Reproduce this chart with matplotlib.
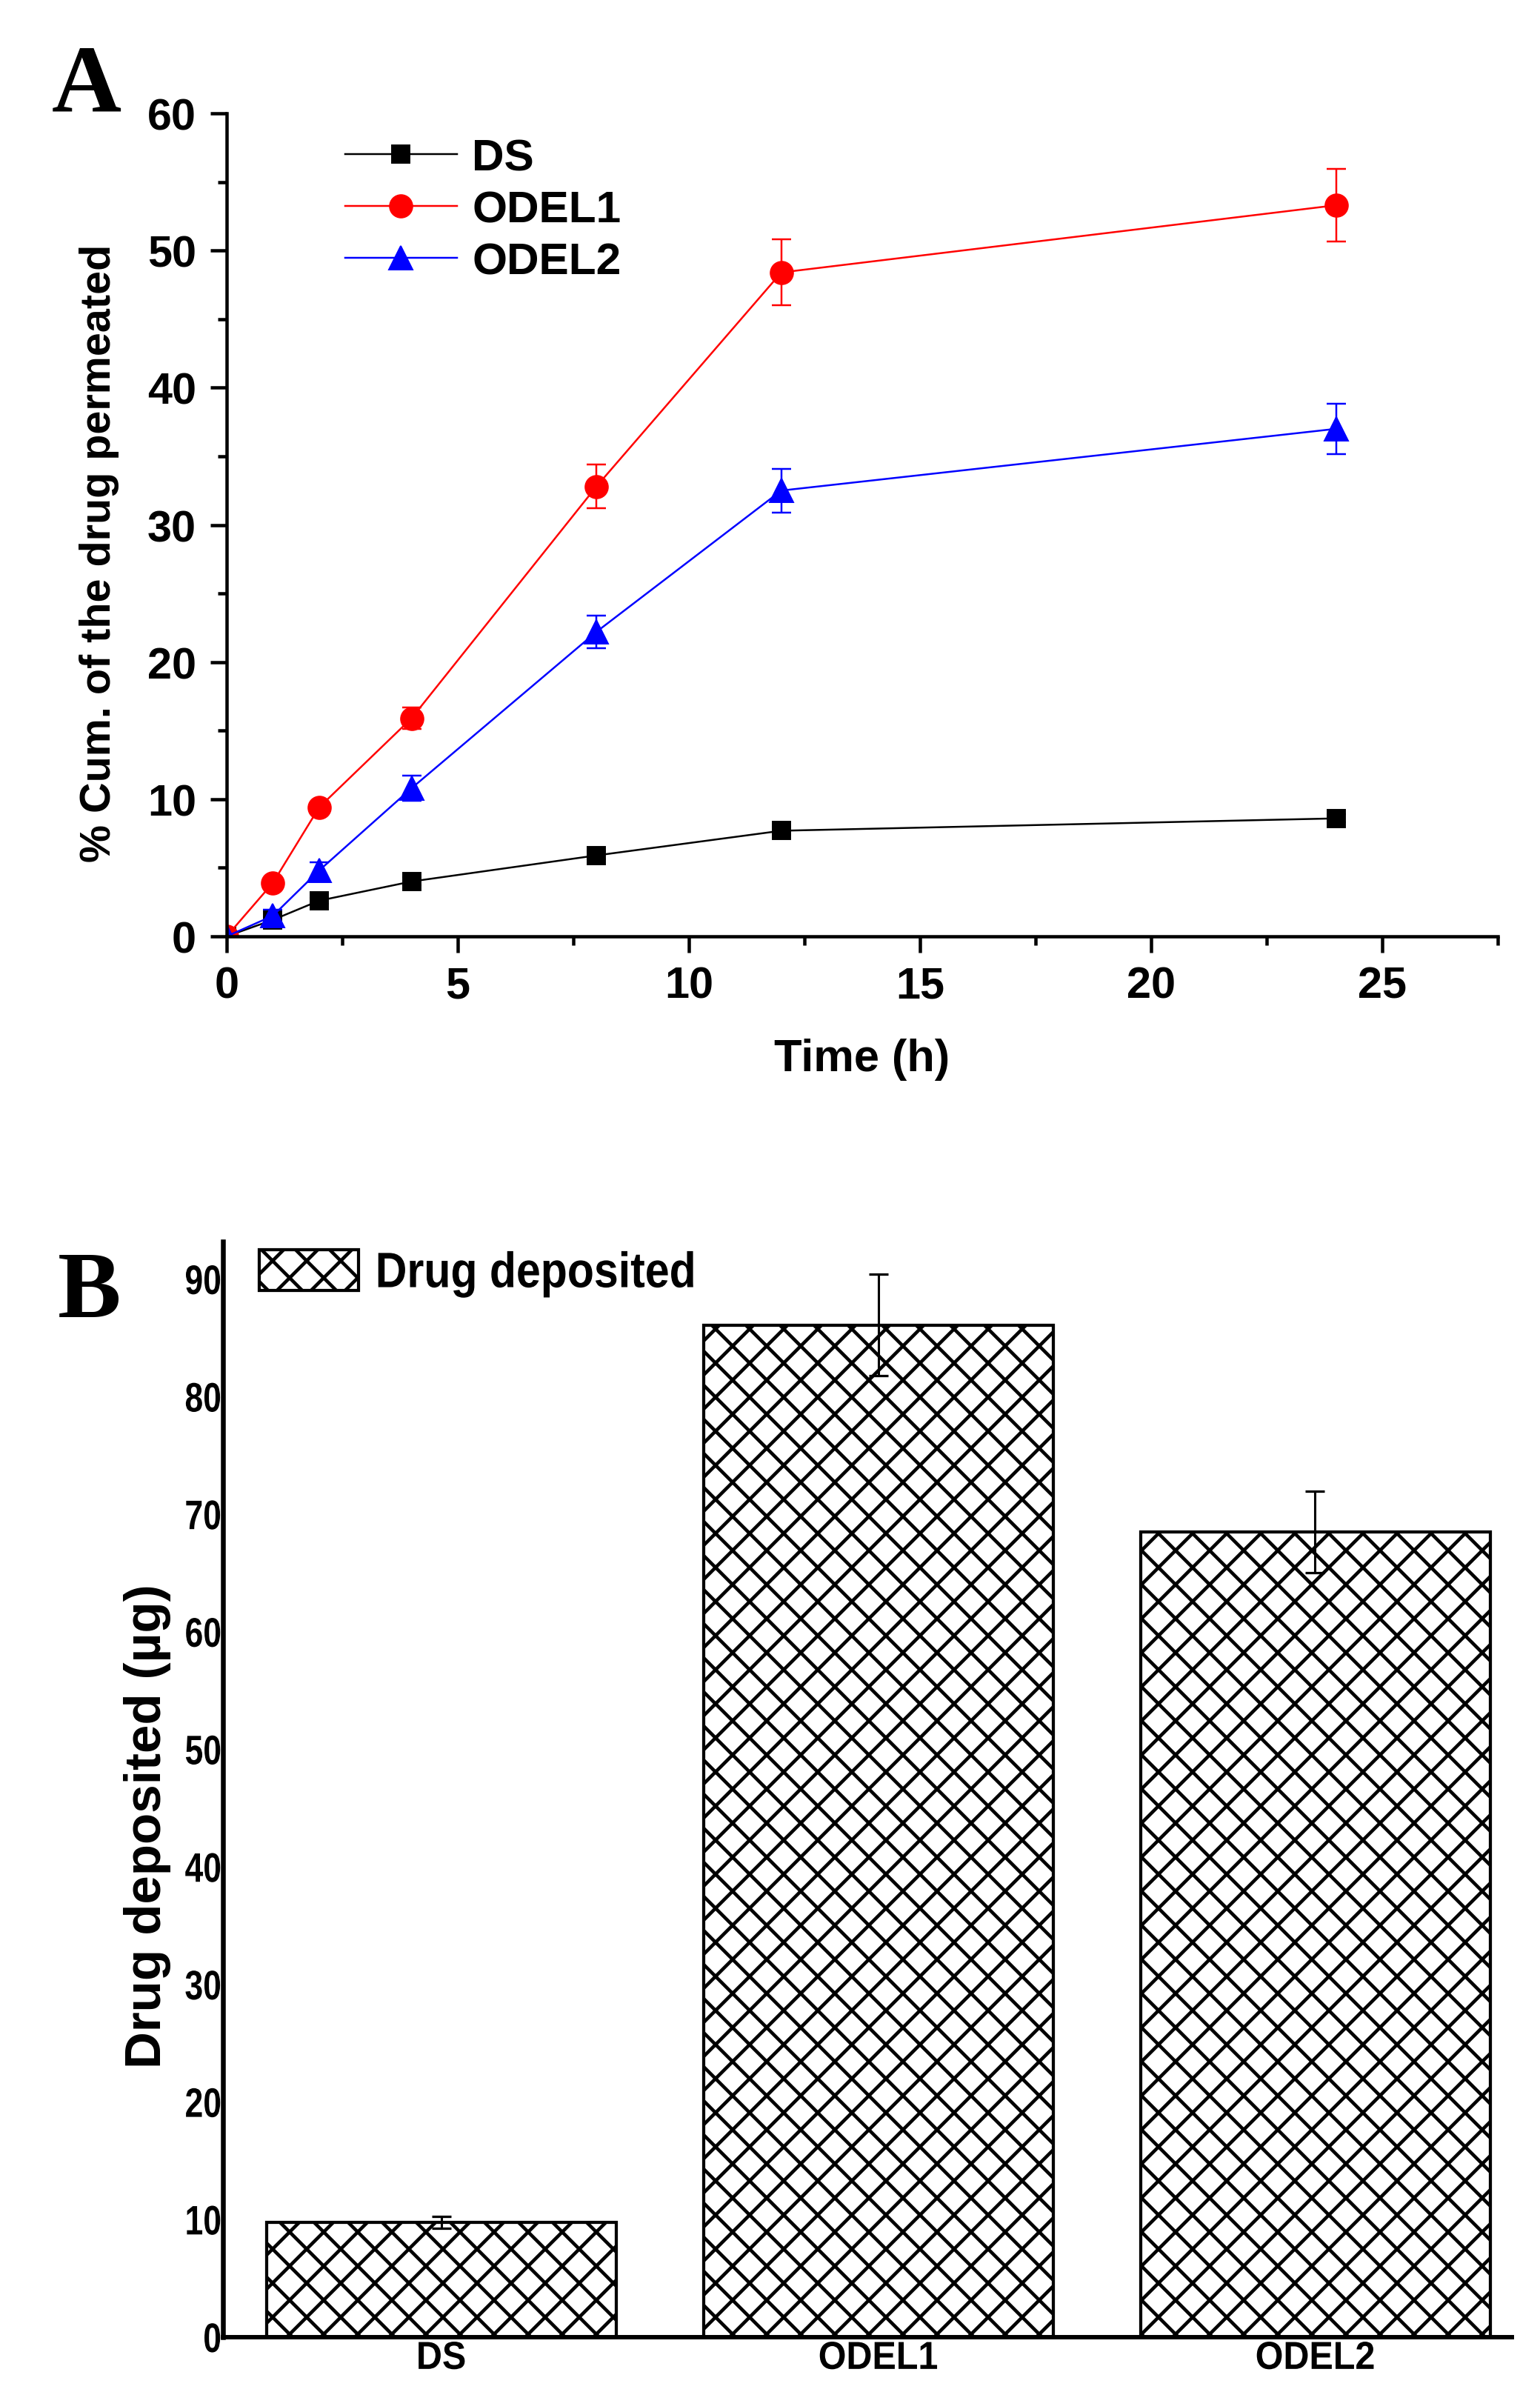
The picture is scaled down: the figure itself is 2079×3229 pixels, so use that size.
import matplotlib
matplotlib.use('Agg')
import matplotlib.pyplot as plt
from matplotlib import patheffects
from matplotlib.transforms import Affine2D
from matplotlib.ticker import MultipleLocator

plt.rcParams['font.family'] = ['Liberation Sans', 'DejaVu Sans']
plt.rcParams['font.weight'] = 'bold'
plt.rcParams['axes.labelweight'] = 'bold'
plt.rcParams['hatch.linewidth'] = 2.4

# ---- panel A data: cumulative permeation
time_h = [0, 1, 2, 4, 8, 12, 24]
ds = [0, 1.2, 2.6, 4.0, 5.9, 7.7, 8.6]
ds_err = [0, 0.2, 0.2, 0.3, 0.3, 0.3, 0.3]
odel1 = [0, 3.9, 9.4, 15.9, 32.8, 48.4, 53.3]
odel1_err = [0, 0.3, 0.4, 0.8, 1.6, 2.4, 2.65]
odel2 = [0, 1.5, 4.8, 10.8, 22.2, 32.5, 37.0]
odel2_err = [0, 0.45, 0.6, 0.9, 1.2, 1.6, 1.85]

# ---- panel B data: drug deposited
groups = ['DS', 'ODEL1', 'ODEL2']
deposited = [9.75, 86.1, 68.5]
deposited_err = [0.5, 4.3, 3.45]

DPI = 138
W, H = 2079, 3230
fig = plt.figure(figsize=(W / DPI, H / DPI), dpi=DPI)


def box(l, t, r, b):
    # pixel box -> figure fraction
    return [l / W, 1 - b / H, (r - l) / W, (b - t) / H]


class Squeeze(patheffects.AbstractPathEffect):
    """squash text horizontally (panel B uses a condensed face)"""

    def __init__(self, sx, anchor='center'):
        super().__init__()
        self.sx = sx
        self.anchor = anchor

    def draw_path(self, renderer, gc, tpath, affine, rgbFace=None):
        ext = tpath.get_extents()
        if self.anchor == 'right':
            x0 = ext.x1
        elif self.anchor == 'left':
            x0 = ext.x0
        else:
            x0 = 0.5 * (ext.x0 + ext.x1)
        t = Affine2D().translate(-x0, 0).scale(self.sx, 1).translate(x0, 0) + affine
        renderer.draw_path(gc, tpath, t, rgbFace)


# ================= A =================
axA = fig.add_axes(box(306, 154, 2022, 1265))

series = [
    (ds, ds_err, 'black', 's', 13, 'DS'),
    (odel1, odel1_err, '#ff0000', 'o', 16, 'ODEL1'),
    (odel2, odel2_err, '#0000ff', '^', 17, 'ODEL2'),
]
handles = []
for y, e, c, m, ms, lab in series:
    cont = axA.errorbar(time_h, y, yerr=e, color=c, marker=m, ms=ms, mec=c,
                        lw=1.3, elinewidth=1.3, capsize=7, capthick=1.3, label=lab)
    handles.append(cont[0])

axA.set_xlim(0, 27.5)
axA.set_ylim(0, 60)
axA.xaxis.set_major_locator(MultipleLocator(5))
axA.xaxis.set_minor_locator(MultipleLocator(2.5))
axA.yaxis.set_major_locator(MultipleLocator(10))
axA.yaxis.set_minor_locator(MultipleLocator(5))
for s in ['top', 'right']:
    axA.spines[s].set_visible(False)
for s in ['left', 'bottom']:
    axA.spines[s].set_linewidth(2.35)
axA.tick_params(which='major', direction='out', length=11.5, width=2.35, labelsize=31)
axA.tick_params(which='minor', direction='out', length=6.3, width=2.35)
axA.tick_params(axis='x', which='major', pad=9)
axA.tick_params(axis='y', which='major', pad=10)

axA.set_xlabel('Time (h)', fontsize=32)
axA.xaxis.set_label_coords(0.5, -0.1233)
axA.set_ylabel('% Cum. of the drug permeated', fontsize=30)
axA.yaxis.set_label_coords(-0.0845, 0.466)

axA.legend(handles=handles, labels=[s[5] for s in series], loc='upper left',
           bbox_to_anchor=(0.0932, 0.97), frameon=False, borderpad=0,
           borderaxespad=0, handlelength=2.5, handletextpad=0.34,
           labelspacing=0.25, numpoints=1, fontsize=31.5)

fig.text(70 / W, 1 - 150 / H, 'A', family='Liberation Serif', weight='bold',
         fontsize=68, ha='left', va='baseline')

# ================= B =================
axB = fig.add_axes(box(300.5, 1677, 2041, 3156))
xpos = list(range(len(groups)))
axB.bar(xpos, deposited, width=0.8, color='white', edgecolor='black',
        linewidth=2.2, hatch='x', label='Drug deposited')
axB.errorbar(xpos, deposited, yerr=deposited_err, fmt='none', ecolor='black',
             elinewidth=1.6, capsize=6.8, capthick=1.7)

axB.set_xlim(-0.5, 2.45)
axB.set_ylim(0, 93.2)
axB.set_yticks(range(0, 91, 10))
axB.set_xticks(xpos)
axB.set_xticklabels(groups)
for s in ['top', 'right']:
    axB.spines[s].set_visible(False)
axB.spines['left'].set_linewidth(3.4)
axB.spines['bottom'].set_linewidth(3.1)
axB.tick_params(axis='y', length=0, pad=0.5, labelsize=29)
axB.tick_params(axis='x', length=0, pad=2, labelsize=27.5)
for lab in axB.get_yticklabels():
    lab.set_path_effects([Squeeze(0.8, 'right')])
for lab in axB.get_xticklabels():
    lab.set_path_effects([Squeeze(0.92, 'center')])

axB.set_ylabel('Drug deposited (µg)', fontsize=36)
axB.yaxis.set_label_coords(-0.0399, 0.467)

legB = axB.legend(loc='upper left', bbox_to_anchor=(0.0284, 0.9926), frameon=False,
                  borderpad=0, borderaxespad=0, handlelength=2.0, handleheight=0.88,
                  handletextpad=0.33, fontsize=35)
for t in legB.get_texts():
    t.set_path_effects([Squeeze(0.88, 'left')])

fig.text(78 / W, 1 - 1778 / H, 'B', family='Liberation Serif', weight='bold',
         fontsize=67, ha='left', va='baseline')

fig.savefig('out.png', dpi=DPI)
